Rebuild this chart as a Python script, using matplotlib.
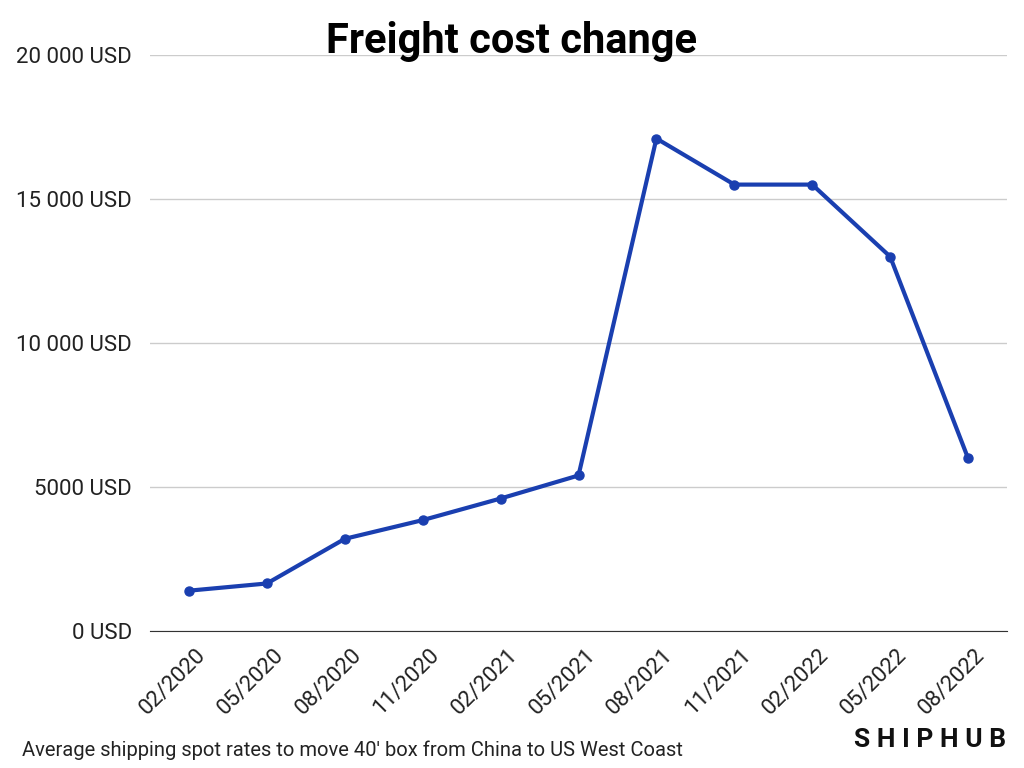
import matplotlib
matplotlib.use('Agg')
import matplotlib.pyplot as plt

plt.rcParams['font.family'] = 'Roboto'

# data
months = ['02/2020', '05/2020', '08/2020', '11/2020', '02/2021', '05/2021',
          '08/2021', '11/2021', '02/2022', '05/2022', '08/2022']
cost = [1400, 1650, 3200, 3850, 4600, 5400, 17100, 15500, 15500, 13000, 6000]
yticks = [0, 5000, 10000, 15000, 20000]
ylabels = ['0 USD', '5000 USD', '10 000 USD', '15 000 USD', '20 000 USD']

fig = plt.figure(figsize=(10.24, 7.68), dpi=100)
ax = fig.add_axes([150/1024, 1-631/768, 857/1024, 576/768])

x = range(len(months))
ax.plot(x, cost, color='#1a3fb0', lw=3, marker='o', ms=6.5, zorder=3)

ax.set_xlim(-0.5, len(months) - 0.5)
ax.set_ylim(0, 20000)
ax.set_yticks(yticks)
ax.set_yticklabels(ylabels, fontsize=16, color='#222222')
ax.set_xticks([i + 0.08 for i in x])
ax.set_xticklabels(months, rotation=45, ha='right', rotation_mode='anchor',
                   fontsize=16, color='#222222')
ax.tick_params(axis='y', length=0, pad=13)
ax.tick_params(axis='x', length=0, pad=10)
ax.grid(axis='y', color='#cccccc', lw=1)
for s in ['top', 'right', 'left']:
    ax.spines[s].set_visible(False)
ax.spines['bottom'].set_color('#333333')
ax.set_axisbelow(True)

fig.text(0.5, 1-42/768, 'Freight cost change', ha='center', va='center',
         fontsize=30, fontweight='bold')
fig.text(22/1024, 1-750/768, "Average shipping spot rates to move 40' box from China to US West Coast",
         ha='left', va='center', fontsize=14.5, color='#222222')
fig.text(1006/1024, 1-740/768, 'S H I P H U B', ha='right', va='center',
         fontsize=19, fontweight='bold', color='#111111')

fig.savefig('out.png', dpi=100)
